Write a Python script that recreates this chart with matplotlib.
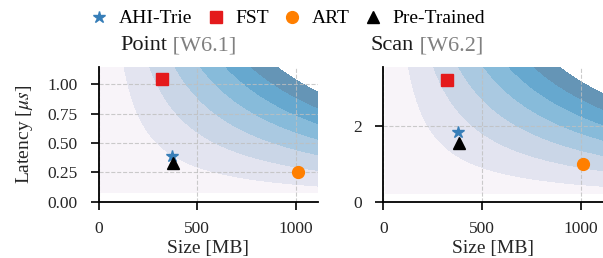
import matplotlib.pyplot as plt
import numpy as np
from matplotlib.lines import Line2D

plt.rcParams['font.family'] = 'Liberation Serif'
plt.rcParams['mathtext.fontset'] = 'stix'

# methods and colours
methods = ['AHI-Trie', 'FST', 'ART', 'Pre-Trained']
markers = ['*', 's', 'o', '^']
colors = ['#377eb8', '#e41a1c', '#ff7f00', 'black']
msizes = [9, 8, 8.5, 8]

# size in MB, latency in us
point_size = [371, 321, 1008, 378]
point_lat = [0.39, 1.045, 0.25, 0.33]
scan_size = [377, 324, 1010, 380]
scan_lat = [1.84, 3.23, 1.01, 1.54]

titles = ['Point', 'Scan']
tags = ['[W6.1]', '[W6.2]']
ylims = [1.15, 3.57]
yticks = [[0, 0.25, 0.5, 0.75, 1.0], [0, 2]]
ytick_labels = [['0.00', '0.25', '0.50', '0.75', '1.00'], ['0', '2']]
top_levels = [1036, 3166]  # size*latency of the last contour band
y_starts = [0.077, 0.22]

# faded PuBu bands (light -> dark)
band_colors = ['#f8f4f9', '#e3e4f0', '#cad6e7', '#aac9e1',
               '#87bbda', '#66a8cf', '#6595b6']

fig = plt.figure(figsize=(6.03, 2.58), dpi=100)
ax1 = fig.add_axes([0.1637, 0.2182, 0.3632, 0.5233])
ax2 = fig.add_axes([0.6357, 0.2182, 0.3643, 0.5233])

data = [(point_size, point_lat), (scan_size, scan_lat)]
title_x = [120 / 603, 371 / 603]

for k, ax in enumerate([ax1, ax2]):
    xs = np.linspace(10, 1110, 300)
    ys = np.linspace(y_starts[k], ylims[k], 300)
    X, Y = np.meshgrid(xs, ys)
    ax.contourf(X, Y, X * Y,
                levels=np.linspace(0, top_levels[k], len(band_colors) + 1),
                colors=band_colors)

    sizes, lats = data[k]
    for i in range(len(methods)):
        ax.plot(sizes[i], lats[i], marker=markers[i], color=colors[i],
                markersize=msizes[i], linestyle='none', zorder=5)

    ax.set_xlim(0, 1110)
    ax.set_ylim(0, ylims[k])
    ax.set_xticks([0, 500, 1000])
    ax.set_yticks(yticks[k])
    ax.set_yticklabels(ytick_labels[k])
    ax.grid(True, linestyle='--', color='0.75', linewidth=0.8, alpha=0.8)
    for s in ['top', 'right']:
        ax.spines[s].set_visible(False)
    for s in ['left', 'bottom']:
        ax.spines[s].set_linewidth(1.3)
        ax.spines[s].set_color('black')
    ax.tick_params(axis='both', direction='out', length=6, width=1.2,
                   labelsize=12.5, colors='black', labelcolor='.15')
    ax.tick_params(axis='y', pad=9)
    ax.tick_params(axis='x', pad=8)
    ax.set_xlabel('Size [MB]', fontsize=14, color='.15', labelpad=2)

    t = fig.text(title_x[k], 0.806, titles[k], fontsize=16, color='.1',
                 va='baseline')
    ax.annotate(' ' + tags[k], xy=(1, 0), xycoords=t, va='bottom',
                fontsize=16, color='gray', annotation_clip=False)

ax1.set_ylabel(r'Latency [$\mu s$]', fontsize=14, color='.15', labelpad=9)

handles = [Line2D([], [], marker=markers[i], color=colors[i], linestyle='none',
                  markersize=msizes[i]) for i in range(len(methods))]
fig.legend(handles, methods, loc='upper center', bbox_to_anchor=(0.478, 1.03),
           ncol=4, frameon=False, fontsize=14, handlelength=0.8,
           handletextpad=0.6, columnspacing=0.8)

fig.savefig('out.png', dpi=100)
